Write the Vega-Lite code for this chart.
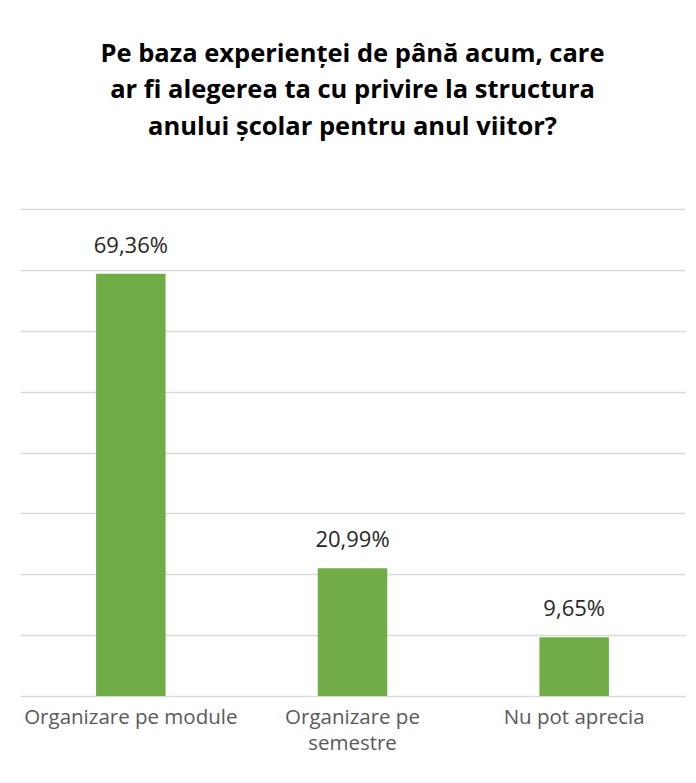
{
  "$schema": "https://vega.github.io/schema/vega-lite/v6.json",
  "width": 665,
  "height": 487,
  "autosize": {"type": "none"},
  "padding": {"left": 20, "top": 209, "right": 11, "bottom": 87},
  "background": "white",
  "title": {
    "text": ["Pe baza experienței de până acum, care", "ar fi alegerea ta cu privire la structura", "anului școlar pentru anul viitor?"],
    "font": "Open Sans",
    "fontSize": 25.5,
    "fontWeight": "bold",
    "color": "#000000",
    "lineHeight": 36.5,
    "anchor": "middle",
    "offset": 69
  },
  "data": {
    "values": [
      {"cat": "Organizare pe module", "val": 69.36, "label": "69,36%"},
      {"cat": "Organizare pe semestre", "val": 20.99, "label": "20,99%"},
      {"cat": "Nu pot aprecia", "val": 9.65, "label": "9,65%"}
    ]
  },
  "config": {"view": {"stroke": null}},
  "encoding": {
    "x": {
      "field": "cat",
      "type": "nominal",
      "sort": null,
      "scale": {"paddingInner": 0.6865, "paddingOuter": 0.34325},
      "axis": {
        "title": null,
        "labelAngle": 0,
        "labelFont": "Open Sans",
        "labelFontSize": 20.5,
        "labelColor": "#595959",
        "labelPadding": 11,
        "labelLineHeight": 26,
        "labelLimit": 300,
        "labelExpr": "datum.value == 'Organizare pe semestre' ? ['Organizare pe', 'semestre'] : datum.value",
        "ticks": false,
        "domain": false
      }
    },
    "y": {
      "field": "val",
      "type": "quantitative",
      "scale": {"domain": [0, 80], "nice": false},
      "axis": {
        "title": null,
        "labels": false,
        "ticks": false,
        "domain": false,
        "values": [0, 10, 20, 30, 40, 50, 60, 70, 80],
        "gridColor": "#D9D9D9",
        "gridWidth": 1.3
      }
    }
  },
  "layer": [
    {"mark": {"type": "bar", "color": "#70AD47"}},
    {
      "mark": {"type": "text", "font": "Open Sans", "fontSize": 22, "color": "#262626", "baseline": "middle", "dy": -28},
      "encoding": {"text": {"field": "label"}}
    }
  ]
}
